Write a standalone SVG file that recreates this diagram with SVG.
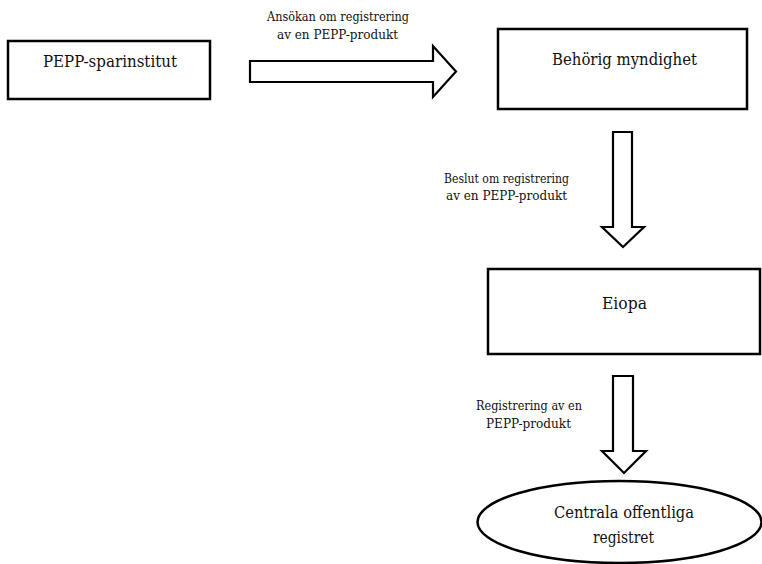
<svg xmlns="http://www.w3.org/2000/svg" width="762" height="564" viewBox="0 0 762 564">
<style>
.box{fill:#fff;stroke:#000;stroke-width:2.5}
.arr{fill:#fff;stroke:#000;stroke-width:2.2;stroke-linejoin:miter}
text{font-family:'DejaVu Serif',serif;fill:#111;text-anchor:middle}
.nt{font-size:16px}
.lt{font-size:12px}
</style>
<rect width="762" height="564" fill="#fff"/>
<g id="connectors">
<polygon class="arr" points="250,61 433,61 433,46 456,71.5 433,97 433,82 250,82"/>
<text class="lt" x="338" y="21" textLength="142" lengthAdjust="spacingAndGlyphs">Ansökan om registrering</text>
<text class="lt" x="337.5" y="39" textLength="121" lengthAdjust="spacingAndGlyphs">av en PEPP-produkt</text>
<polygon class="arr" points="613,132 632,132 632,227 644,227 623,247 602,227 613,227"/>
<text class="lt" x="506.5" y="183" textLength="125" lengthAdjust="spacingAndGlyphs">Beslut om registrering</text>
<text class="lt" x="506.5" y="200" textLength="121" lengthAdjust="spacingAndGlyphs">av en PEPP-produkt</text>
<polygon class="arr" points="613,376 633,376 633,451 646,451 624,473 602,451 613,451"/>
<text class="lt" x="529" y="410" textLength="106" lengthAdjust="spacingAndGlyphs">Registrering av en</text>
<text class="lt" x="528.5" y="428" textLength="85" lengthAdjust="spacingAndGlyphs">PEPP-produkt</text>
</g>
<g id="pepp">
<rect class="box" x="8" y="41" width="202" height="58"/>
<text class="nt" x="110" y="67" textLength="134" lengthAdjust="spacingAndGlyphs">PEPP-sparinstitut</text>
</g>
<g id="behorig">
<rect class="box" x="498" y="29" width="249" height="80"/>
<text class="nt" x="624.5" y="65" textLength="145" lengthAdjust="spacingAndGlyphs">Behörig myndighet</text>
</g>
<g id="eiopa">
<rect class="box" x="488" y="269" width="272" height="85"/>
<text class="nt" x="624.5" y="309" textLength="45" lengthAdjust="spacingAndGlyphs">Eiopa</text>
</g>
<g id="register">
<ellipse class="box" cx="619.5" cy="522" rx="142" ry="41"/>
<text class="nt" x="624" y="518" textLength="140" lengthAdjust="spacingAndGlyphs">Centrala offentliga</text>
<text class="nt" x="623.5" y="543" textLength="61" lengthAdjust="spacingAndGlyphs">registret</text>
</g>
</svg>
